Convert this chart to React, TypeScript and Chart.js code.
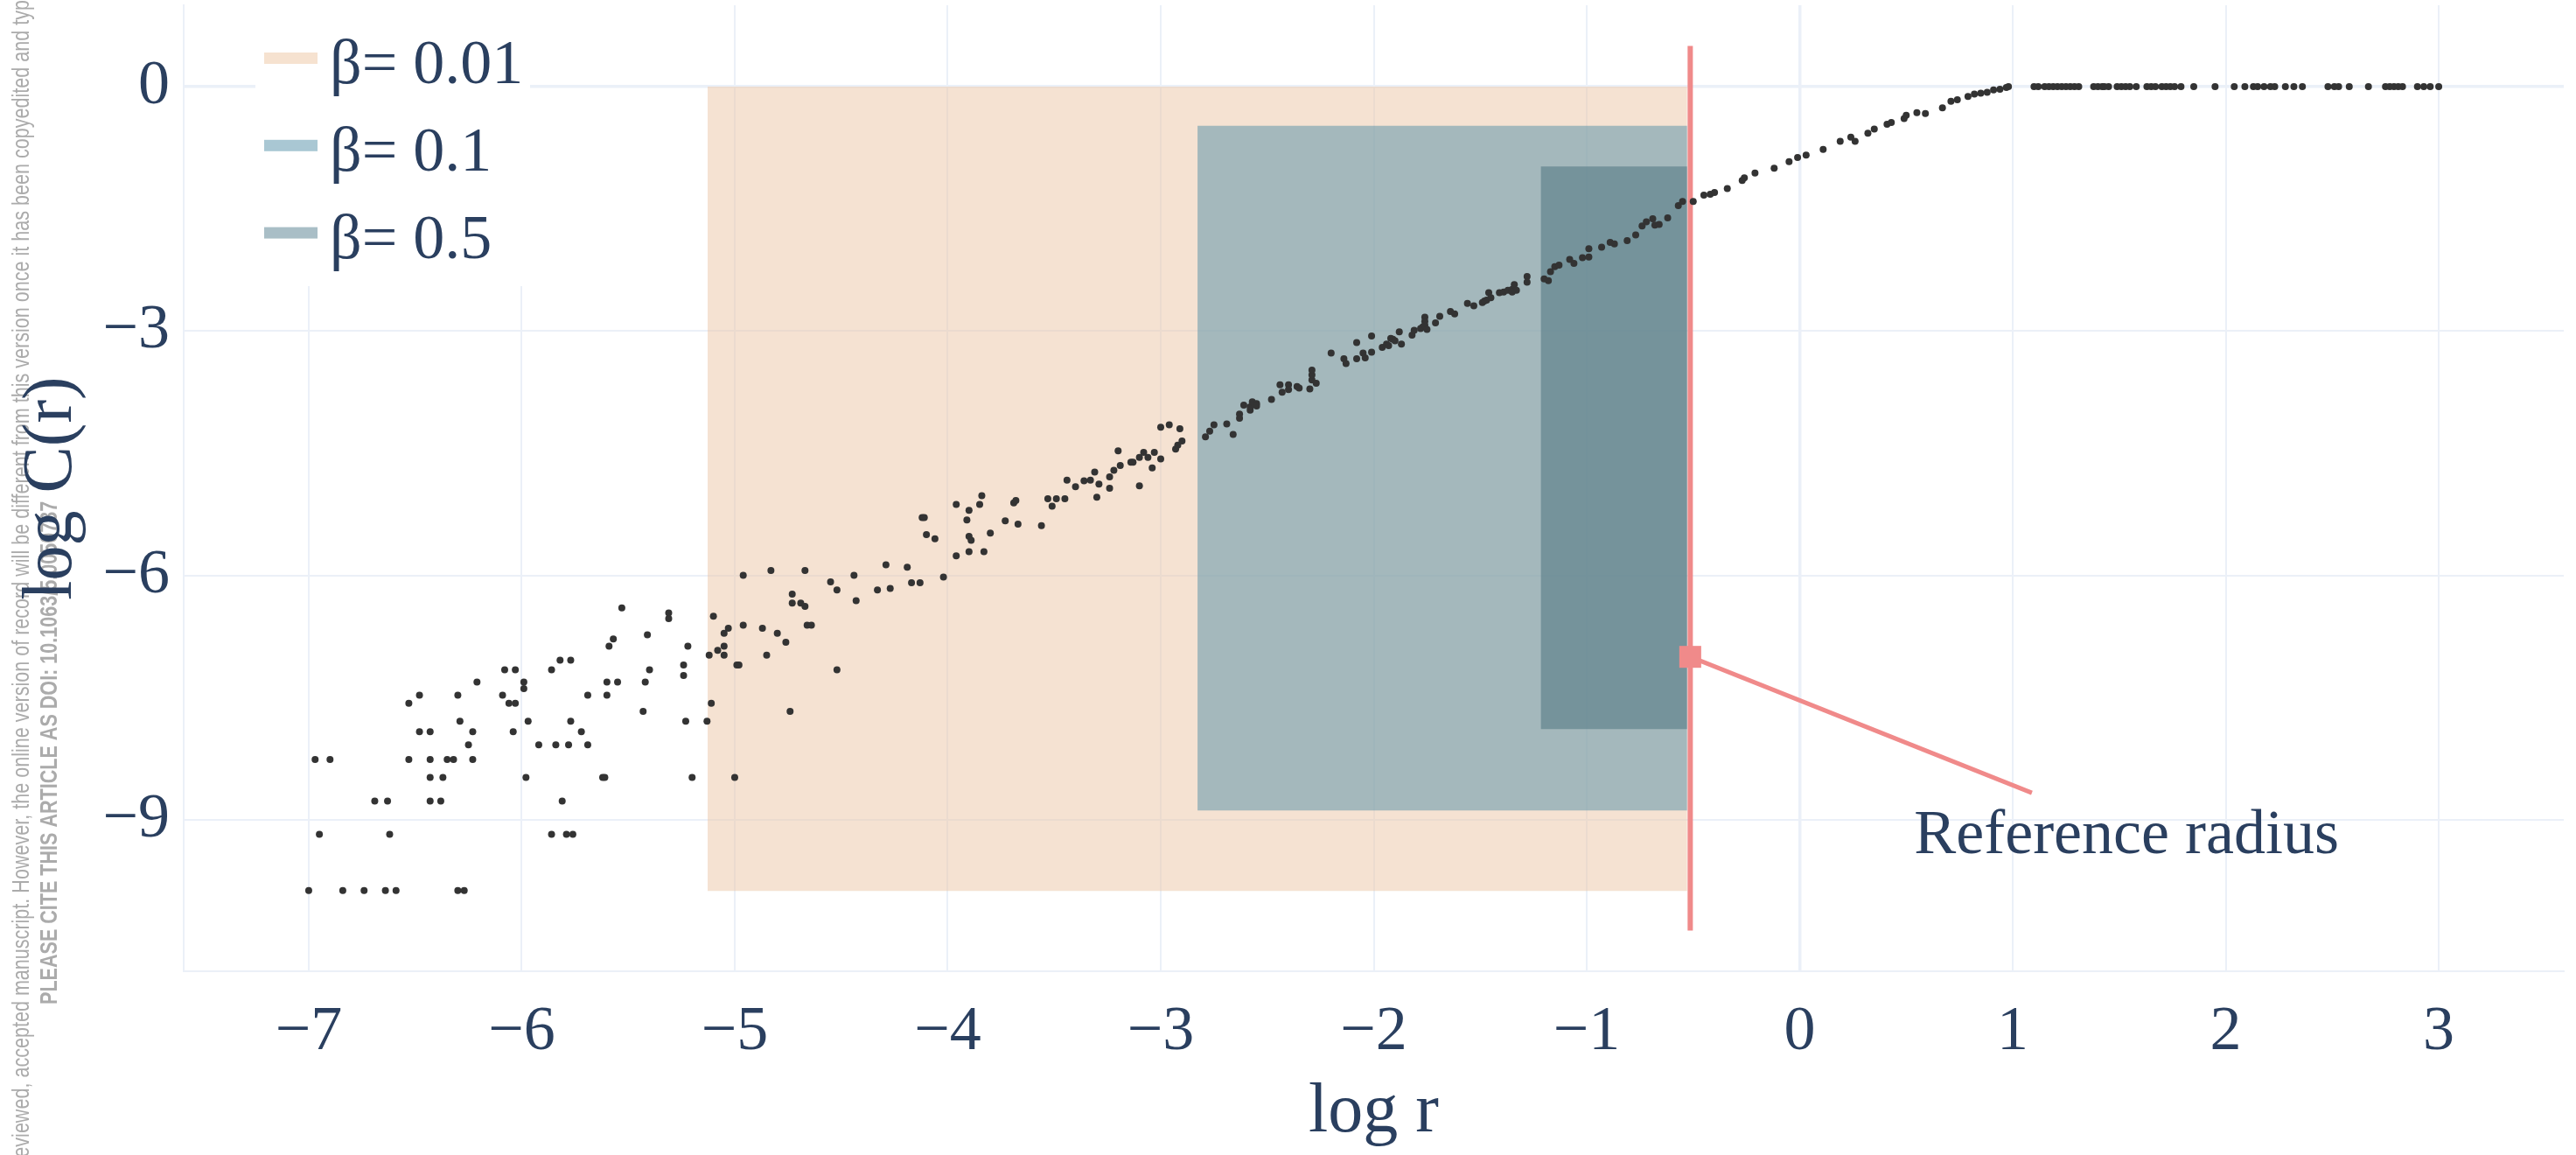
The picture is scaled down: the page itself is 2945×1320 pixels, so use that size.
import React, { useEffect, useRef } from "react";
import { Chart, registerables } from "chart.js";

Chart.register(...registerables);

// ---------------- data ----------------
const logR = [
  -7.00, -6.97, -6.90, -6.95, -6.84, -6.74, -6.69, -6.63, -6.64, -6.59,
  -6.62, -6.53, -6.48, -6.53, -6.48, -6.43, -6.43, -6.43, -6.43, -6.38,
  -6.37, -6.35, -6.32, -6.30, -6.29, -6.23, -6.25, -6.23, -6.30, -6.27,
  -6.21, -6.08, -6.03, -6.09, -6.06, -6.03, -5.99, -5.99, -6.04, -5.97,
  -5.98, -5.86, -5.82, -5.77, -5.92, -5.84, -5.78, -5.77, -5.81, -5.86,
  -5.79, -5.76, -5.69, -5.72, -5.69, -5.62, -5.61, -5.60, -5.60, -5.59,
  -5.57, -5.55, -5.53, -5.43, -5.42, -5.41, -5.40, -5.31, -5.31, -5.24,
  -5.24, -5.22, -5.23, -5.20, -5.13, -5.12, -5.11, -5.10, -5.08, -5.05,
  -5.05, -5.05, -5.03, -4.99, -4.98, -5.00, -4.96, -4.96, -4.87, -4.85,
  -4.83, -4.80, -4.76, -4.74, -4.73, -4.73, -4.69, -4.67, -4.67, -4.66,
  -4.64, -4.55, -4.52, -4.52, -4.44, -4.43,
  -4.33, -4.29, -4.27, -4.19, -4.17, -4.13, -4.12, -4.11, -4.10, -4.06,
  -4.02, -3.96, -3.96, -3.91, -3.90, -3.90, -3.89, -3.90, -3.85, -3.84,
  -3.83, -3.80, -3.73, -3.69, -3.68, -3.67, -3.56, -3.53, -3.51, -3.49,
  -3.45, -3.44, -3.40, -3.36, -3.33, -3.31, -3.29, -3.30, -3.24, -3.24,
  -3.22, -3.20, -3.19, -3.14, -3.13, -3.10, -3.08, -3.06, -3.10, -3.04,
  -3.03, -3.00, -3.00, -2.96, -2.91, -2.93, -2.92, -2.90, -2.79, -2.77,
  -2.75, -2.69, -2.66, -2.63, -2.63, -2.61, -2.58, -2.58, -2.57, -2.55,
  -2.55, -2.48, -2.44, -2.43, -2.40, -2.40, -2.36, -2.35, -2.30, -2.29,
  -2.29, -2.29, -2.27,
  -2.20, -2.14, -2.13, -2.08, -2.08, -2.05, -2.04, -2.01, -2.01, -1.96,
  -1.94, -1.93, -1.92, -1.91, -1.90, -1.88, -1.87, -1.82, -1.81, -1.78,
  -1.77, -1.76, -1.76, -1.76, -1.75, -1.71, -1.69, -1.64, -1.62, -1.56,
  -1.53, -1.49, -1.48, -1.47, -1.46, -1.45, -1.41, -1.39, -1.37, -1.35,
  -1.34, -1.33, -1.35, -1.28, -1.28, -1.20, -1.18, -1.17, -1.15, -1.13,
  -1.08, -1.06, -1.02, -0.99, -0.99, -0.93, -0.89, -0.87,
  -0.81, -0.77, -0.74, -0.72, -0.69, -0.68, -0.66, -0.62, -0.57, -0.55,
  -0.50, -0.45, -0.42, -0.40, -0.34, -0.27, -0.26, -0.21, -0.12, -0.05,
  -0.01, 0.03, 0.11, 0.19, 0.24, 0.26, 0.32, 0.35, 0.41, 0.43,
  0.49, 0.50, 0.55, 0.59, 0.67, 0.71, 0.74, 0.79, 0.82, 0.85,
  0.88, 0.91, 0.94, 0.97, 0.98,
  1.10, 1.12, 1.15, 1.17, 1.19, 1.21, 1.23, 1.25, 1.27, 1.29,
  1.31, 1.38, 1.40, 1.42, 1.43, 1.45, 1.49, 1.51, 1.53, 1.55,
  1.58, 1.63, 1.65, 1.67, 1.70, 1.72, 1.74, 1.76, 1.79, 1.85,
  1.95, 2.04, 2.09, 2.13, 2.15, 2.18, 2.21, 2.23, 2.28, 2.32,
  2.36, 2.48, 2.51, 2.53, 2.58, 2.67, 2.75, 2.77, 2.79, 2.81,
  2.83, 2.90, 2.93, 2.96, 3.00,
];

const logC = [
  -9.87, -8.26, -8.26, -9.18, -9.87, -9.87, -8.77, -8.77, -9.87, -9.87,
  -9.18, -7.57, -7.47, -8.26, -7.92, -7.92, -8.26, -8.48, -8.77, -8.77,
  -8.48, -8.26, -8.26, -7.47, -7.79, -7.92, -8.08, -8.26, -9.87, -9.87,
  -7.31, -7.16, -7.16, -7.47, -7.57, -7.57, -7.31, -7.39, -7.92, -7.79,
  -8.48, -7.16, -7.04, -7.04, -8.08, -8.08, -8.08, -7.79, -8.77, -9.18,
  -9.18, -9.18, -7.47, -7.92, -8.08, -8.48, -8.48, -7.31, -7.47, -6.87,
  -6.78, -7.31, -6.40, -7.67, -7.31, -6.73, -7.16, -6.53, -6.46, -7.10,
  -7.23, -6.87, -7.79, -8.48, -7.79, -6.98, -7.57, -6.50, -6.92, -6.71,
  -6.87, -6.98, -6.65, -7.10, -7.10, -8.48, -6.00, -6.61, -6.65, -6.98,
  -5.94, -6.71, -6.82, -7.67, -6.34, -6.23, -6.34, -6.38, -5.94, -6.61,
  -6.61, -6.08, -6.18, -7.16, -6.00, -6.31,
  -6.18, -5.87, -6.16, -5.90, -6.09, -6.09, -5.29, -5.29, -5.50, -5.55,
  -6.02, -5.13, -5.76, -5.32, -5.20, -5.52, -5.57, -5.71, -5.13, -5.02,
  -5.71, -5.48, -5.33, -5.11, -5.08, -5.37, -5.39, -5.06, -5.15, -5.06,
  -5.06, -4.83, -4.91, -4.84, -4.83, -4.73, -4.88, -5.04, -4.79, -4.93,
  -4.71, -4.47, -4.65, -4.61, -4.61, -4.55, -4.49, -4.55, -4.90, -4.68,
  -4.49, -4.18, -4.57, -4.15, -4.20, -4.45, -4.40, -4.35, -4.30, -4.23,
  -4.15, -4.14, -4.27, -4.02, -4.07, -3.91, -3.97, -3.93, -3.87, -3.89,
  -3.92, -3.84, -3.66, -3.75, -3.66, -3.72, -3.68, -3.70, -3.71, -3.60,
  -3.54, -3.48, -3.64,
  -3.27, -3.34, -3.40, -3.14, -3.34, -3.27, -3.33, -3.06, -3.26, -3.20,
  -3.16, -3.18, -3.09, -3.10, -3.12, -3.01, -3.16, -3.05, -2.99, -2.97,
  -2.95, -2.83, -2.88, -2.93, -2.98, -2.90, -2.82, -2.76, -2.79, -2.66,
  -2.69, -2.65, -2.63, -2.62, -2.53, -2.59, -2.53, -2.52, -2.50, -2.49,
  -2.43, -2.50, -2.52, -2.33, -2.40, -2.36, -2.38, -2.27, -2.21, -2.19,
  -2.12, -2.17, -2.10, -2.09, -1.99, -1.97, -1.91, -1.93,
  -1.89, -1.82, -1.71, -1.66, -1.62, -1.70, -1.69, -1.61, -1.46, -1.41,
  -1.41, -1.33, -1.32, -1.30, -1.25, -1.15, -1.12, -1.06, -1.00, -0.92,
  -0.87, -0.84, -0.77, -0.67, -0.62, -0.67, -0.57, -0.52, -0.46, -0.44,
  -0.39, -0.35, -0.32, -0.33, -0.26, -0.18, -0.16, -0.12, -0.09, -0.08,
  -0.07, -0.04, -0.03, -0.01, 0.00,
  0, 0, 0, 0, 0, 0, 0, 0, 0, 0,
  0, 0, 0, 0, 0, 0, 0, 0, 0, 0,
  0, 0, 0, 0, 0, 0, 0, 0, 0, 0,
  0, 0, 0, 0, 0, 0, 0, 0, 0, 0,
  0, 0, 0, 0, 0, 0, 0, 0, 0, 0,
  0, 0, 0, 0, 0,
];

const xTickValues = [-7, -6, -5, -4, -3, -2, -1, 0, 1, 2, 3];
const yTickValues = [-9, -6, -3, 0];

const betaLabels = ["β= 0.01", "β= 0.1", "β= 0.5"];
const boxLeft = [-5.127, -2.827, -1.215];
const boxRight = [-0.529, -0.529, -0.529];
const boxBottom = [-9.875, -8.886, -7.888];
const boxTop = [0, -0.479, -0.98];

const referenceRadius = -0.514;
const referenceLineSpan = [-10.36, 0.5];
const annotationPoint = [-0.514, -7.0];
const annotationTail = [1.09, -8.67];
const annotationTextPos = [1.534, -9.413];
const annotationText = "Reference radius";

const xRange = [-7.587, 3.587];
const yRange = [-10.86, 1.0];

const xTitle = "log r";
const yTitle = "log C(r)";
const watermarkLine1 =
  "This is the author’s peer reviewed, accepted manuscript. However, the online version of record will be different from this version once it has been copyedited and typeset.";
const watermarkLine2 = "PLEASE CITE THIS ARTICLE AS DOI: 10.1063/5.0050737";

// ---------------- styles ----------------
const SERIF = "'Liberation Serif', 'Times New Roman', Times, serif";
const SANS = "'Liberation Sans', Arial, Helvetica, sans-serif";
const TEXT = "#2a3f5f";
const GRID = "#ebf0f8";
const RED = "#f08a8a";
const DOT = "#333333";
const BOX_FILL = ["rgba(235,197,165,0.5)", "rgba(83,143,167,0.5)", "rgba(72,112,124,0.5)"];
const LEGEND_SWATCH = ["#f6e2d0", "#a9c7d3", "#a9bec6"];
const WM_COLOR = "#ababab";

const minusFmt = (v: number) => (v < 0 ? "\u2212" + Math.abs(v) : String(v));

const overlayPlugin = {
  id: "overlay",
  beforeDraw(chart: any) {
    const ctx = chart.ctx as CanvasRenderingContext2D;
    const squeeze = 0.77;
    ctx.save();
    ctx.fillStyle = WM_COLOR;
    ctx.font = `28px ${SANS}`;
    const prefix = watermarkLine1.slice(0, watermarkLine1.indexOf("typeset") + 3);
    const w = ctx.measureText(prefix).width * squeeze;
    ctx.translate(33, w);
    ctx.rotate(-Math.PI / 2);
    ctx.scale(squeeze, 1);
    ctx.textBaseline = "alphabetic";
    ctx.fillText(watermarkLine1, 0, 0);
    ctx.restore();

    ctx.save();
    ctx.fillStyle = WM_COLOR;
    ctx.font = `bold 28px ${SANS}`;
    ctx.translate(65, 1148);
    ctx.rotate(-Math.PI / 2);
    ctx.scale(squeeze, 1);
    ctx.textBaseline = "alphabetic";
    ctx.fillText(watermarkLine2, 0, 0);
    ctx.restore();
  },
  afterDraw(chart: any) {
    const ctx = chart.ctx as CanvasRenderingContext2D;
    const area = chart.chartArea;
    const xs = chart.scales.x;
    const ys = chart.scales.y;
    ctx.save();
    ctx.fillStyle = "#ffffff";
    ctx.fillRect(area.left + 82, area.top, 314, 321);
    ctx.font = `72px ${SERIF}`;
    ctx.textBaseline = "alphabetic";
    ctx.textAlign = "left";
    betaLabels.forEach((lab, i) => {
      const cy = area.top + 60.5 + i * 99.8;
      ctx.fillStyle = LEGEND_SWATCH[i];
      ctx.fillRect(area.left + 92, cy - 6.5, 61, 13);
      ctx.fillStyle = TEXT;
      ctx.fillText(lab, area.left + 167, cy + 28.5);
    });
    ctx.fillStyle = TEXT;
    ctx.textAlign = "center";
    ctx.fillText(
      annotationText,
      xs.getPixelForValue(annotationTextPos[0]),
      ys.getPixelForValue(annotationTextPos[1])
    );
    ctx.restore();
  },
};

export default function App() {
  const ref = useRef<HTMLCanvasElement>(null);

  useEffect(() => {
    const canvas = ref.current;
    if (!canvas) return;

    const points = logR.map((x, i) => ({ x, y: logC[i] }));

    const boxes = boxLeft.map((x0, i) => ({
      type: "line" as const,
      label: betaLabels[i],
      data: [
        { x: x0, y: boxBottom[i] },
        { x: x0, y: boxTop[i] },
        { x: boxRight[i], y: boxTop[i] },
        { x: boxRight[i], y: boxBottom[i] },
        { x: x0, y: boxBottom[i] },
      ],
      fill: "shape" as const,
      backgroundColor: BOX_FILL[i],
      borderColor: "rgba(0,0,0,0)",
      borderWidth: 0,
      pointRadius: 0,
      tension: 0,
      order: 10 - i,
    }));

    const chart = new Chart(canvas, {
      type: "scatter",
      data: {
        datasets: [
          ...boxes,
          {
            type: "line",
            label: "reference line",
            data: [
              { x: referenceRadius, y: referenceLineSpan[0] },
              { x: referenceRadius, y: referenceLineSpan[1] },
            ],
            borderColor: RED,
            borderWidth: 6,
            pointRadius: 0,
            fill: false,
            order: 3,
          },
          {
            type: "scatter",
            label: "log C(r)",
            data: points,
            backgroundColor: DOT,
            pointRadius: 4,
            pointBorderWidth: 0,
            borderWidth: 0,
            order: 2,
          },
          {
            type: "line",
            label: "annotation",
            data: [
              { x: annotationPoint[0], y: annotationPoint[1] },
              { x: annotationTail[0], y: annotationTail[1] },
            ],
            borderColor: RED,
            borderWidth: 5,
            pointStyle: "rect",
            pointRadius: [17.7, 0],
            pointBackgroundColor: RED,
            pointBorderWidth: 0,
            fill: false,
            order: 1,
          },
        ] as any,
      },
      options: {
        responsive: false,
        devicePixelRatio: 1,
        animation: false,
        events: [],
        layout: { autoPadding: false, padding: { left: 0, right: 14, top: 6, bottom: 0 } },
        plugins: {
          legend: { display: false },
          tooltip: { enabled: false },
        },
        scales: {
          x: {
            type: "linear",
            min: xRange[0],
            max: xRange[1],
            afterBuildTicks: (s: any) => {
              s.ticks = xTickValues.map((v) => ({ value: v }));
            },
            afterFit: (s: any) => {
              s.height = 210;
              s.paddingLeft = 0;
              s.paddingRight = 0;
            },
            ticks: {
              callback: (v: any) => minusFmt(Number(v)),
              font: { family: SERIF, size: 72 },
              color: TEXT,
              padding: 27,
              maxRotation: 0,
              autoSkip: false,
            },
            grid: {
              color: GRID,
              lineWidth: (c: any) => (c.tick && c.tick.value === 0 ? 3.5 : 2),
              drawTicks: false,
            },
            border: { display: true, color: GRID, width: 2 },
            title: {
              display: true,
              text: xTitle,
              font: { family: SERIF, size: 80 },
              color: TEXT,
              padding: { top: 0, bottom: 0 },
            },
          },
          y: {
            type: "linear",
            min: yRange[0],
            max: yRange[1],
            afterBuildTicks: (s: any) => {
              s.ticks = yTickValues.map((v) => ({ value: v }));
            },
            afterFit: (s: any) => {
              s.width = 210;
              s.paddingTop = 0;
              s.paddingBottom = 0;
            },
            ticks: {
              callback: (v: any) => minusFmt(Number(v)),
              font: { family: SERIF, size: 72 },
              color: TEXT,
              padding: 16,
              autoSkip: false,
            },
            grid: {
              color: GRID,
              lineWidth: (c: any) => (c.tick && c.tick.value === 0 ? 3.5 : 2),
              drawTicks: false,
            },
            border: { display: true, color: GRID, width: 2 },
            title: {
              display: true,
              text: yTitle,
              font: { family: SERIF, size: 80 },
              color: TEXT,
              padding: { top: 12, bottom: 0 },
            },
          },
        },
      },
      plugins: [overlayPlugin],
    } as any);

    return () => chart.destroy();
  }, []);

  return (
    <div
      style={{
        position: "fixed",
        left: 0,
        top: 0,
        width: 2945,
        height: 1320,
        background: "#ffffff",
      }}
    >
      <canvas
        ref={ref}
        width={2945}
        height={1320}
        style={{ display: "block", width: 2945, height: 1320 }}
      />
    </div>
  );
}
